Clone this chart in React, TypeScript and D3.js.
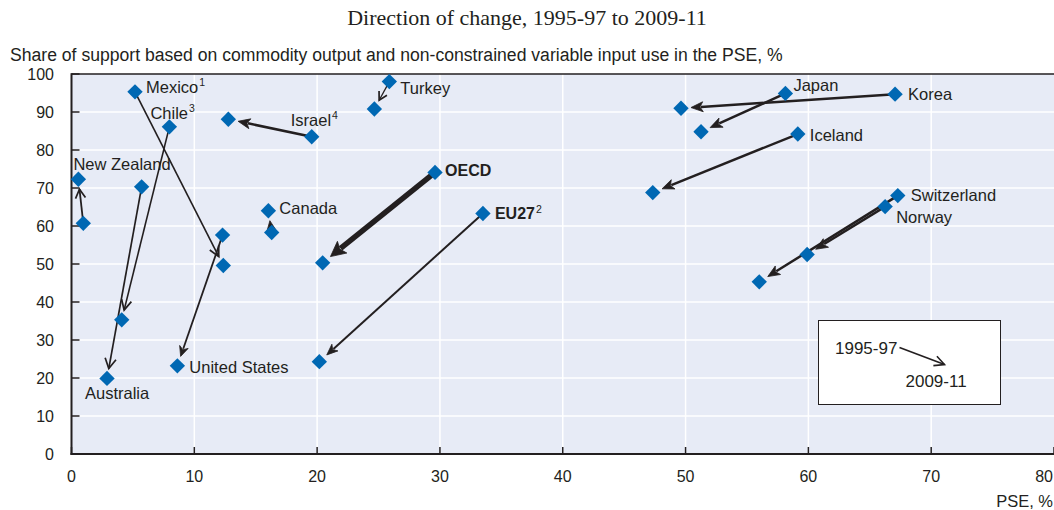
import React from "react";
import * as d3 from "d3";

const countries = ["Mexico", "Chile", "Australia", "New Zealand", "United States", "Canada", "Israel", "Turkey", "OECD", "EU27", "Japan", "Korea", "Iceland", "Switzerland", "Norway"];
const pse9597 = [5.17, 7.97, 5.71, 0.96, 12.3, 16.3, 19.56, 25.88, 29.6, 33.5, 58.13, 67.06, 59.14, 67.28, 66.25];
const share9597 = [95.3, 86.1, 70.3, 60.7, 57.6, 58.3, 83.5, 98.0, 74.1, 63.3, 94.9, 94.7, 84.2, 68.0, 65.1];
const pse0911 = [12.36, 4.09, 2.89, 0.56, 8.62, 16.03, 12.77, 24.66, 20.45, 20.18, 51.26, 49.63, 47.33, 56.0, 59.9];
const share0911 = [49.6, 35.3, 19.9, 72.3, 23.2, 64.0, 88.1, 90.8, 50.3, 24.3, 84.8, 91.0, 68.8, 45.3, 52.5];
const noteMarks = ["1", "3", "", "", "", "", "4", "", "", "2", "", "", "", "", ""];

const xTicks = [0, 10, 20, 30, 40, 50, 60, 70, 80];
const yTicks = [0, 10, 20, 30, 40, 50, 60, 70, 80, 90, 100];

// label placement: anchor on start (s) or end (e) point, offsets in px
const labelStyle: Record<string, { at: "s" | "e"; dx: number; dy: number; bold?: boolean }> = {
  "Mexico": { at: "s", dx: 11, dy: 1 },
  "Chile": { at: "s", dx: -19, dy: -8 },
  "Australia": { at: "e", dx: -22, dy: 21 },
  "New Zealand": { at: "e", dx: -5, dy: -9 },
  "United States": { at: "e", dx: 12, dy: 7 },
  "Canada": { at: "e", dx: 11, dy: 3 },
  "Israel": { at: "s", dx: -21, dy: -11 },
  "Turkey": { at: "s", dx: 11, dy: 12 },
  "OECD": { at: "s", dx: 10, dy: 4, bold: true },
  "EU27": { at: "s", dx: 12, dy: 6, bold: true },
  "Japan": { at: "s", dx: 8, dy: -2 },
  "Korea": { at: "s", dx: 13, dy: 6 },
  "Iceland": { at: "s", dx: 12, dy: 7 },
  "Switzerland": { at: "s", dx: 13, dy: 5 },
  "Norway": { at: "s", dx: 11, dy: 16 },
};

const arrowStyle: Record<string, { w: number; head: "open" | "filled"; hl: number; hw: number }> = {
  "Mexico": { w: 1.6, head: "open", hl: 10, hw: 5 },
  "Chile": { w: 1.6, head: "open", hl: 10, hw: 5 },
  "Australia": { w: 1.7, head: "open", hl: 10, hw: 5.5 },
  "New Zealand": { w: 1.8, head: "open", hl: 9, hw: 5 },
  "United States": { w: 1.8, head: "filled", hl: 10, hw: 4.5 },
  "Canada": { w: 1.8, head: "filled", hl: 10, hw: 4.5 },
  "Israel": { w: 2.5, head: "filled", hl: 12, hw: 5 },
  "Turkey": { w: 1.3, head: "open", hl: 8, hw: 4.5 },
  "OECD": { w: 5.5, head: "filled", hl: 15, hw: 7.5 },
  "EU27": { w: 2, head: "filled", hl: 11, hw: 4.5 },
  "Japan": { w: 2.5, head: "filled", hl: 12, hw: 5 },
  "Korea": { w: 2.5, head: "filled", hl: 12, hw: 5 },
  "Iceland": { w: 2.5, head: "filled", hl: 12, hw: 5 },
  "Switzerland": { w: 2.5, head: "filled", hl: 12, hw: 5 },
  "Norway": { w: 2.5, head: "filled", hl: 12, hw: 5 },
};

const W = 1054, H = 510;
const M = { left: 71.5, right: 0, top: 74, bottom: 56 };
const FONT = "'Liberation Sans', Arial, sans-serif";
const SERIF = "'Liberation Serif', serif";
const INK = "#231F20";
const BLUE = "#0068B3";
const BG = "#E7EBF6";

function arrowPath(x1: number, y1: number, x2: number, y2: number, gap: number, st: { w: number; head: string; hl: number; hw: number }) {
  const dx = x2 - x1, dy = y2 - y1;
  const len = Math.hypot(dx, dy);
  const ux = dx / len, uy = dy / len;
  const tx = x2 - ux * gap, ty = y2 - uy * gap;
  const px = -uy, py = ux;
  const bx = tx - ux * st.hl, by = ty - uy * st.hl;
  const lineEnd = st.head === "filled" ? { x: bx + ux * 2, y: by + uy * 2 } : { x: tx, y: ty };
  const line = d3.path();
  line.moveTo(x1, y1);
  line.lineTo(lineEnd.x, lineEnd.y);
  const head = d3.path();
  if (st.head === "filled") {
    head.moveTo(tx, ty);
    head.lineTo(bx + px * st.hw, by + py * st.hw);
    head.lineTo(bx + ux * 3, by + uy * 3);
    head.lineTo(bx - px * st.hw, by - py * st.hw);
    head.closePath();
  } else {
    head.moveTo(bx + px * st.hw, by + py * st.hw);
    head.lineTo(tx, ty);
    head.lineTo(bx - px * st.hw, by - py * st.hw);
  }
  return { line: line.toString(), head: head.toString() };
}

export default function App() {
  const x = d3.scaleLinear().domain([0, 80]).range([M.left, W - M.right]);
  const y = d3.scaleLinear().domain([0, 100]).range([H - M.bottom, M.top]);
  const diamond = d3.symbol().type(d3.symbolSquare).size(118)();
  const x0 = x(0), x1 = x(80), y0 = y(0), y1 = y(100);

  const legX = 818.5, legY = 320.5;

  return (
    <svg width={W} height={H} style={{ position: "absolute", left: 0, top: 0 }} fontFamily={FONT}>
      <text x={527} y={25} textAnchor="middle" fontFamily={SERIF} fontSize={22} fill={INK}>
        Direction of change, 1995-97 to 2009-11
      </text>
      <text x={10} y={61} fontSize={17.6} fill={INK}>
        Share of support based on commodity output and non-constrained variable input use in the PSE, %
      </text>

      <rect x={x0} y={y1} width={x1 - x0} height={y0 - y1} fill={BG} />
      {xTicks.filter((t) => t > 0 && t < 80).map((t) => (
        <line key={"gx" + t} x1={x(t)} x2={x(t)} y1={y1} y2={y0} stroke="#fff" strokeWidth={1.5} />
      ))}
      {yTicks.filter((t) => t > 0 && t < 100).map((t) => (
        <line key={"gy" + t} x1={x0} x2={x1} y1={y(t)} y2={y(t)} stroke="#fff" strokeWidth={1.5} />
      ))}

      {/* axes */}
      <line x1={x0} x2={x1} y1={y1} y2={y1} stroke={INK} strokeWidth={1.5} />
      <line x1={x0} x2={x0} y1={y1 - 0.75} y2={y0 + 1} stroke={INK} strokeWidth={2} />
      <line x1={x0 - 1} x2={x1} y1={y0} y2={y0} stroke={INK} strokeWidth={2} />
      {yTicks.map((t) => (
        <g key={"yt" + t}>
          <line x1={x0} x2={x0 + 8} y1={y(t)} y2={y(t)} stroke={INK} strokeWidth={1.5} />
          <text x={54} y={y(t)} dy="0.36em" textAnchor="end" fontSize={16} fill={INK}>{t}</text>
        </g>
      ))}
      {xTicks.map((t) => (
        <g key={"xt" + t}>
          <line x1={x(t)} x2={x(t)} y1={y0} y2={y0 - 7} stroke={INK} strokeWidth={1.5} />
          <text x={t === 80 ? x(t) - 1 : x(t)} y={482} textAnchor={t === 80 ? "end" : "middle"} fontSize={16} fill={INK}>{t}</text>
        </g>
      ))}
      <text x={1053} y={507} textAnchor="end" fontSize={16.5} fill={INK}>PSE, %</text>

      {/* arrows */}
      {countries.map((c, i) => {
        const st = arrowStyle[c];
        const p = arrowPath(x(pse9597[i]), y(share9597[i]), x(pse0911[i]), y(share0911[i]), 10, st);
        return (
          <g key={"a" + c}>
            <path d={p.line} stroke={INK} strokeWidth={st.w} fill="none" />
            <path d={p.head} stroke={INK} strokeWidth={st.head === "filled" ? 0.8 : 1.7} fill={st.head === "filled" ? INK : "none"} strokeLinejoin="miter" />
          </g>
        );
      })}

      {/* points */}
      {countries.map((c, i) => (
        <g key={"p" + c}>
          <path d={diamond} transform={`translate(${x(pse9597[i])},${y(share9597[i])}) rotate(45)`} fill={BLUE} />
          <path d={diamond} transform={`translate(${x(pse0911[i])},${y(share0911[i])}) rotate(45)`} fill={BLUE} />
        </g>
      ))}

      {/* labels */}
      {countries.map((c, i) => {
        const ls = labelStyle[c];
        const ax = ls.at === "s" ? x(pse9597[i]) : x(pse0911[i]);
        const ay = ls.at === "s" ? y(share9597[i]) : y(share0911[i]);
        return (
          <text key={"l" + c} x={ax + ls.dx} y={ay + ls.dy} fontSize={ls.bold ? 16 : 16.5} fill={INK} fontWeight={ls.bold ? "bold" : "normal"}>
            {c}
            {noteMarks[i] && <tspan fontSize={10.5} fontWeight="normal" dx={1} dy={-6.5}>{noteMarks[i]}</tspan>}
          </text>
        );
      })}

      {/* legend */}
      <rect x={legX} y={legY} width={182} height={84} fill="#fff" stroke={INK} strokeWidth={1} />
      <text x={legX + 16.5} y={legY + 33} fontSize={17} fill={INK}>1995-97</text>
      {(() => {
        const p = arrowPath(legX + 81, legY + 27, legX + 126, legY + 44, 0, { w: 1.6, head: "open", hl: 10, hw: 5 });
        return (
          <g>
            <path d={p.line} stroke={INK} strokeWidth={1.6} fill="none" />
            <path d={p.head} stroke={INK} strokeWidth={1.6} fill="none" />
          </g>
        );
      })()}
      <text x={legX + 87} y={legY + 66} fontSize={17} fill={INK}>2009-11</text>
    </svg>
  );
}
